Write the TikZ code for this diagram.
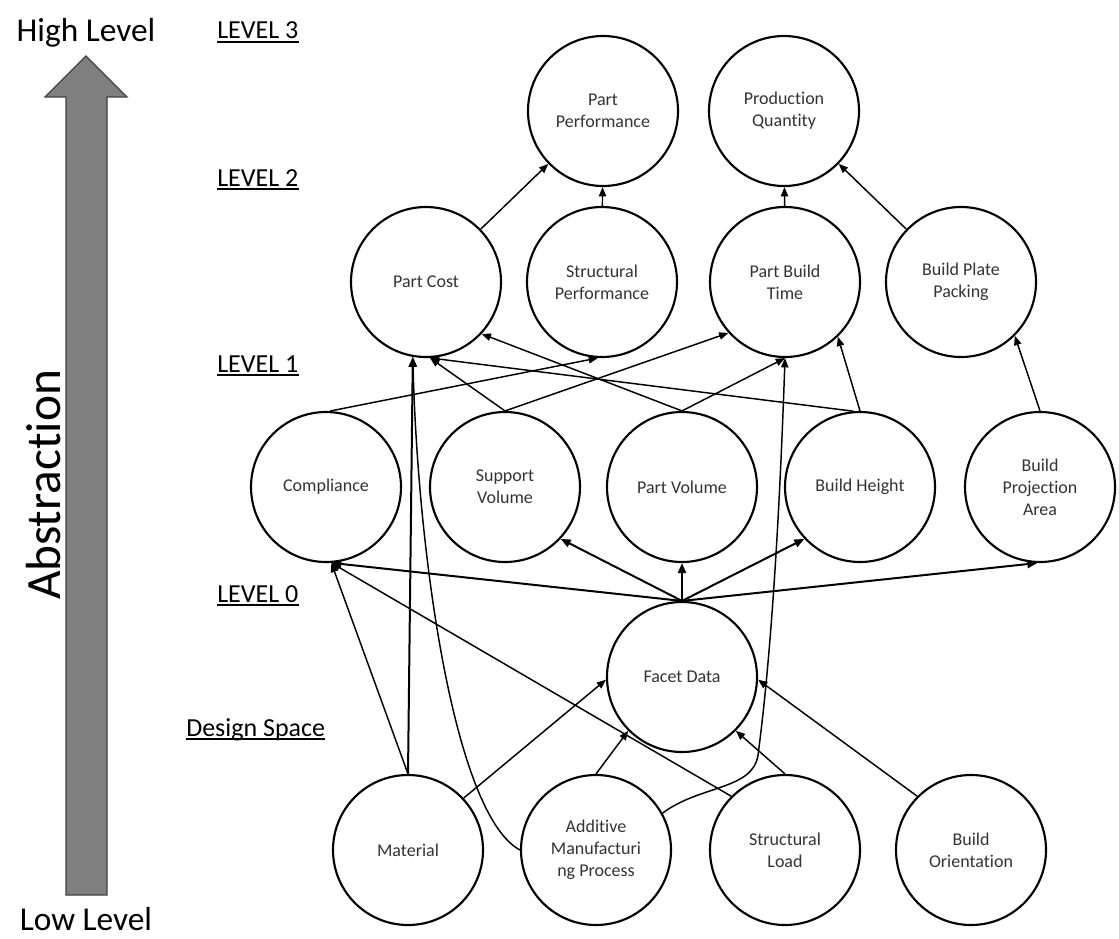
\documentclass[tikz,border=0pt]{standalone}
\usepackage{fontspec}
\setmainfont[Ligatures=NoCommon]{Carlito}
\usetikzlibrary{arrows.meta}
\tikzset{
	bubble/.style={draw, circle, line width=1.6pt, minimum size=112.5pt, inner sep=0pt, align=center, text=black!80, font=\fontsize{13.5}{16.5}\selectfont},
	link/.style={line width=1.1pt, -{Triangle[length=7pt,width=5.5pt]}},
	biglink/.style={line width=1.5pt, -{Triangle[length=7.5pt,width=6pt]}},
	lvl/.style={anchor=base west, inner sep=0pt, font=\fontsize{19.5}{23}\selectfont},
	side/.style={anchor=base, inner sep=0pt, font=\fontsize{25}{30}\selectfont}
}
\def\lvlline(#1){\draw[line width=1.1pt] ([yshift=-2.4pt]#1.base west) -- ([yshift=-2.4pt]#1.base east);}

\begin{document}
\begin{tikzpicture}[x=0.75pt,y=-0.75pt]
		%%%%% START %%%%%
		\useasboundingbox (0,0) rectangle (1119,938);
		
		% abstraction arrow
		\draw[fill=black!50, draw=black!75, line width=0.8pt] (66,895) -- (66,97) -- (45,97) -- (86,56) -- (127,97) -- (107,97) -- (107,895) -- cycle;
		\node[side] (high) at (86,42) {High Level};
		\node[side] (low) at (86,930) {Low Level};
		\node[rotate=90, anchor=base, inner sep=0pt, font=\fontsize{37}{44}\selectfont] (abst) at (60,485) {Abstraction};
		
		% level labels
		\node[lvl] (lv3) at (217,39) {LEVEL 3};
		\node[lvl] (lv2) at (217,186) {LEVEL 2};
		\node[lvl] (lv1) at (217,372) {LEVEL 1};
		\node[lvl] (lv0) at (217,602) {LEVEL 0};
		\node[lvl] (dspace) at (186,736) {Design Space};
		\lvlline(lv3) \lvlline(lv2) \lvlline(lv1) \lvlline(lv0) \lvlline(dspace)
		
		% level 3
		\node[bubble] (pperf) at (603,111) {Part\\Performance};
		\node[bubble] (pqty) at (784,111) {Production\\Quantity};
		
		% level 2
		\node[bubble] (pcost) at (426,282) {Part Cost};
		\node[bubble] (sperf) at (602,282) {Structural\\Performance};
		\node[bubble] (pbtime) at (785,282) {Part Build\\Time};
		\node[bubble] (bpp) at (961,282) {Build Plate\\Packing};
		
		% level 1
		\node[bubble] (compl) at (326,487) {Compliance};
		\node[bubble] (svol) at (505,487) {Support\\Volume};
		\node[bubble] (pvol) at (682,487) {Part Volume};
		\node[bubble] (bheight) at (860,487) {Build Height};
		\node[bubble] (bproj) at (1040,487) {Build\\Projection\\Area};
		
		% level 0
		\node[bubble] (facet) at (682,677) {Facet Data};
		
		% design space
		\node[bubble] (matl) at (408,850) {Material};
		\node[bubble] (amp) at (596,850) {Additive\\Manufacturi\\ng Process};
		\node[bubble] (sload) at (785,850) {Structural\\Load};
		\node[bubble] (bori) at (971,850) {Build\\Orientation};
		
		% level 2 -> level 3
		\draw[link] (pcost) -- (pperf);
		\draw[link] (sperf) -- (pperf);
		\draw[link] (pbtime) -- (pqty);
		\draw[link] (bpp) -- (pqty);
		
		% level 1 -> level 2
		\draw[link] (compl.87) -- (sperf.267);
		\draw[link] (svol.north) -- (pcost.273);
		\draw[link] (svol.north) -- (pbtime.222);
		\draw[link] (pvol.north) -- (pcost.317);
		\draw[link] (pvol.north) -- (pbtime.south);
		\draw[link] (bheight.95) -- (pcost.273);
		\draw[link] (bheight.north) -- (pbtime.314);
		\draw[link] (bproj.north) -- (bpp.315);
		\draw[biglink] (matl.north) -- (pcost.260);
		\draw[link] (amp.west) .. controls (455,815) and (418,560) .. (pcost.260);
		\draw[link] (amp.29) .. controls (700,785) and (753,790) .. (758,755) .. controls (768,680) and (778,560) .. (pbtime.south);
		
		% level 0 -> level 1
		\draw[biglink] (facet.north) -- (compl.274);
		\draw[biglink] (facet.north) -- (svol.317);
		\draw[biglink] (facet.north) -- (pvol.south);
		\draw[biglink] (facet.north) -- (bheight.223);
		\draw[biglink] (facet.north) -- (bproj.268);
		\draw[link] (matl.north) -- (compl.274);
		\draw[link] (sload.135) -- (compl.274);
		
		% design space -> level 0
		\draw[link] (matl.43) -- (facet.182);
		\draw[link] (amp.north) -- (facet.225);
		\draw[link] (sload.north) -- (facet.315);
		\draw[link] (bori.135) -- (facet.358);
		
		%%%%% END %%%%%
\end{tikzpicture}
\end{document}
